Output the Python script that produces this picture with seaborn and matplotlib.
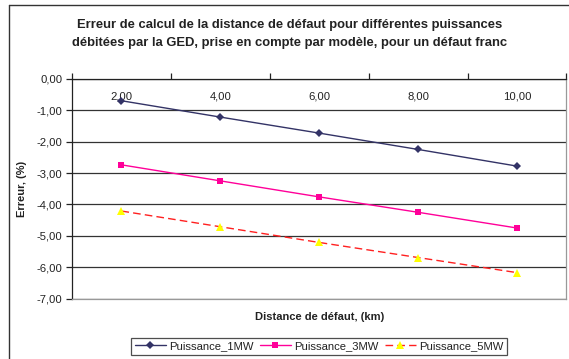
import matplotlib
matplotlib.use("Agg")
import matplotlib.pyplot as plt
from matplotlib.lines import Line2D
import seaborn as sns
import pandas as pd

# Fault distance (km) and computed error (%) for each generated power
distances = [2, 4, 6, 8, 10]
distance_labels = ["2,00", "4,00", "6,00", "8,00", "10,00"]
err_1mw = [-0.70, -1.22, -1.73, -2.25, -2.78]
err_3mw = [-2.74, -3.25, -3.76, -4.25, -4.75]
err_5mw = [-4.21, -4.71, -5.21, -5.69, -6.17]
series_names = ["Puissance_1MW", "Puissance_3MW", "Puissance_5MW"]
y_ticks = [0, -1, -2, -3, -4, -5, -6, -7]

df = pd.DataFrame({
    "distance": distances * 3,
    "erreur": err_1mw + err_3mw + err_5mw,
    "serie": [s for s in series_names for _ in distances],
})

sns.set_theme(style="white")
plt.rcParams["font.family"] = ["Liberation Sans", "DejaVu Sans"]
text_color = "#222222"

W, H = 569, 359
fig = plt.figure(figsize=(W / 100, H / 100), dpi=100)
left, right, top, bottom = 72, 566.4, 78.75, 298.7
ax = fig.add_axes([left / W, 1 - bottom / H, (right - left) / W, (bottom - top) / H])

palette = {"Puissance_1MW": "#333366", "Puissance_3MW": "#FF0099", "Puissance_5MW": "#FF2020"}
markers = {"Puissance_1MW": "D", "Puissance_3MW": "s", "Puissance_5MW": "^"}
dashes = {"Puissance_1MW": "", "Puissance_3MW": "", "Puissance_5MW": (5.5, 3)}
sizes = {"Puissance_1MW": 3.6, "Puissance_3MW": 4.6, "Puissance_5MW": 5.4}

sns.lineplot(data=df, x="distance", y="erreur", hue="serie", style="serie",
             palette=palette, markers=markers, dashes=dashes, linewidth=1.0,
             legend=False, ax=ax, markeredgewidth=0)

for line, name in zip(ax.lines, series_names):
    line.set_markersize(sizes[name])
    if name == "Puissance_5MW":
        line.set_markerfacecolor("#FFFF00")
        line.set_markeredgecolor("#FFFF00")
    else:
        line.set_markerfacecolor(palette[name])
        line.set_markeredgecolor(palette[name])
    line.set_clip_on(False)

ax.set_xlim(1, 11)
ax.set_ylim(-7, 0)

# Category axis drawn along the zero line at the top of the plot
ax.xaxis.set_ticks_position("top")
ax.set_xticks([1, 3, 5, 7, 9, 11])
ax.set_xticklabels([])
ax.set_xticks(distances, minor=True)
ax.set_xticklabels(distance_labels, minor=True)
ax.tick_params(axis="x", which="major", direction="out", length=4, width=0.9,
               color="#222222", top=True, bottom=False)
ax.tick_params(axis="x", which="minor", length=0, top=True, bottom=False,
               labeltop=True, labelbottom=False, pad=-16.3,
               labelsize=8.1, labelcolor=text_color)

ax.set_yticks(y_ticks)
ax.set_yticklabels([f"{v:.2f}".replace(".", ",") for v in y_ticks])
ax.tick_params(axis="y", direction="out", length=4, width=0.9, color="#222222",
               left=True, labelsize=8.1, labelcolor=text_color, pad=3)

ax.grid(axis="y", color="#333333", linewidth=0.9)
ax.grid(axis="x", visible=False)

for side, col in [("left", "#222222"), ("top", "#222222"), ("right", "#999999"), ("bottom", "#999999")]:
    ax.spines[side].set_visible(True)
    ax.spines[side].set_color(col)
    ax.spines[side].set_linewidth(0.9)

ax.set_ylabel("Erreur, (%)", fontsize=8.0, fontweight="bold", color=text_color)
ax.yaxis.set_label_coords((27 - left) / (right - left), 0.5)
ax.xaxis.set_label_position("bottom")
ax.set_xlabel("Distance de défaut, (km)", fontsize=8.0, fontweight="bold", color=text_color)
ax.xaxis.set_label_coords(0.5, -(312.5 - bottom) / (bottom - top))

fig.text(290 / W, 1 - 34 / H,
         "Erreur de calcul de la distance de défaut pour différentes puissances\n"
         "débitées par la GED, prise en compte par modèle, pour un défaut franc",
         ha="center", va="center", fontsize=9.4, fontweight="bold",
         color=text_color, linespacing=1.58)

leg = fig.legend(handles=ax.lines[:3], labels=series_names, loc="center",
                 bbox_to_anchor=(319.2 / W, 1 - 346.3 / H), ncol=3, fontsize=8.1,
                 frameon=True, fancybox=False, edgecolor="#222222",
                 handlelength=2.8, handletextpad=0.3, columnspacing=0.5,
                 borderpad=0.3, labelcolor=text_color)
leg.get_frame().set_linewidth(0.9)

# Chart area border along the left and top
fig.add_artist(Line2D([9 / W, 9 / W], [0, 1 - 5 / H], transform=fig.transFigure,
                      color="#333333", linewidth=1.0))
fig.add_artist(Line2D([9 / W, 1], [1 - 5 / H, 1 - 5 / H], transform=fig.transFigure,
                      color="#333333", linewidth=1.0))

fig.savefig("out.png", dpi=100, facecolor="white")
